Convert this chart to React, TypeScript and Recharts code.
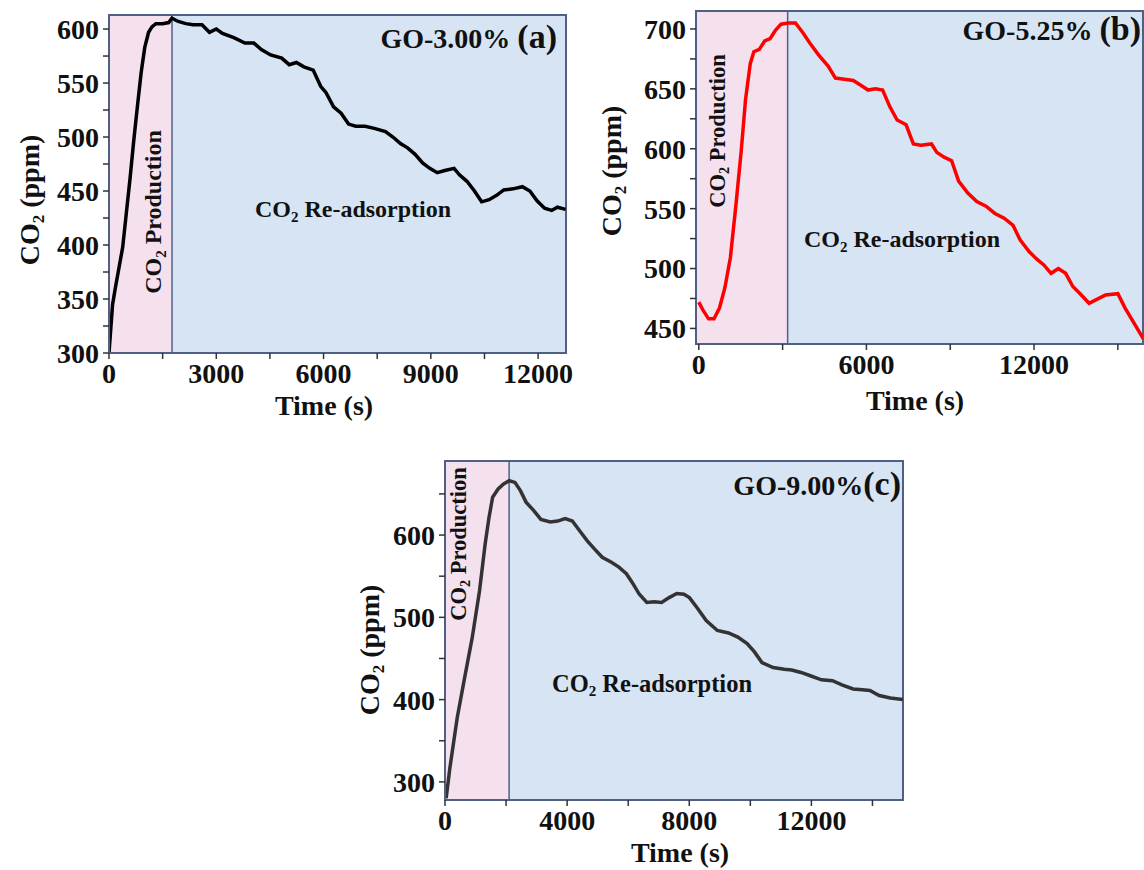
import React from "react";
import {
    LineChart,
    Line,
    XAxis,
    YAxis,
    ReferenceArea,
    ReferenceLine,
} from "recharts";

// Panel (a) GO-3.00%
const timeA = [0, 100, 176, 383, 486, 590, 693, 800, 900, 1000, 1107, 1200, 1310, 1500, 1670, 1760, 1935, 2150, 2350, 2600, 2810, 3000, 3175, 3490, 3800, 4050, 4260, 4520, 4830, 5040, 5240, 5450, 5710, 5920, 6070, 6280, 6490, 6700, 6900, 7160, 7420, 7730, 7940, 8150, 8350, 8560, 8770, 8970, 9180, 9390, 9650, 9800, 10010, 10220, 10420, 10630, 10840, 11040, 11300, 11560, 11770, 11970, 12180, 12380, 12540, 12770];
const co2A = [300, 345, 360, 398, 430, 462, 497, 530, 560, 583, 597, 602, 605, 605, 606, 610, 607, 605, 604, 604, 597, 600, 596, 592, 587, 587, 581, 576, 573, 567, 569, 565, 562, 547, 541, 528, 522, 512, 510, 510, 508, 505, 500, 494, 490, 484, 476, 471, 467, 469, 471, 465, 459, 450, 440, 442, 446, 451, 452, 454, 450, 441, 434, 432, 435, 433];

// Panel (b) GO-5.25%
const timeB = [0, 156, 350, 545, 740, 934, 1130, 1320, 1518, 1673, 1842, 1970, 2165, 2360, 2555, 2750, 2945, 3200, 3460, 3720, 3980, 4300, 4630, 4890, 5210, 5530, 5800, 6060, 6320, 6580, 6840, 7100, 7420, 7680, 7950, 8330, 8520, 8780, 9050, 9300, 9630, 9950, 10280, 10600, 10930, 11250, 11500, 11830, 12090, 12350, 12610, 12870, 13130, 13390, 13650, 13970, 14230, 14560, 15000, 15260, 15590, 15920];
const co2B = [472, 465, 458, 458, 467, 484, 509, 551, 598, 641, 671, 681, 683, 690, 692, 699, 704, 705, 705, 697, 688, 678, 669, 659, 658, 657, 653, 649, 650, 649, 635, 624, 620, 604, 603, 604, 597, 593, 590, 573, 563, 556, 552, 546, 542, 536, 524, 514, 508, 503, 496, 500, 496, 485, 479, 471, 474, 478, 479, 467, 454, 441];

// Panel (c) GO-9.00%
const timeC = [37, 160, 400, 645, 890, 1130, 1315, 1440, 1560, 1740, 1920, 2105, 2290, 2470, 2655, 2900, 3140, 3450, 3690, 3935, 4170, 4415, 4660, 4900, 5150, 5450, 5695, 5940, 6120, 6365, 6610, 6850, 7095, 7340, 7590, 7825, 8005, 8250, 8555, 8920, 9285, 9590, 9895, 10135, 10380, 10745, 11110, 11355, 11660, 11965, 12330, 12690, 13000, 13365, 13670, 13915, 14220, 14585, 15000];
const co2C = [280, 317, 378, 427, 475, 532, 589, 621, 646, 656, 662, 666, 664, 654, 640, 630, 619, 616, 617, 620, 617, 605, 593, 583, 573, 567, 561, 553, 543, 528, 518, 519, 518, 524, 529, 528, 524, 512, 496, 484, 481, 476, 468, 458, 445, 439, 437, 436, 433, 429, 424, 423, 418, 413, 412, 411, 405, 402, 400];

// ticks (minor ticks get no label)
const xTicksA = [0, 1500, 3000, 4500, 6000, 7500, 9000, 10500, 12000];
const xLabelsA = [0, 3000, 6000, 9000, 12000];
const yTicksA = [300, 325, 350, 375, 400, 425, 450, 475, 500, 525, 550, 575, 600];
const yLabelsA = [300, 350, 400, 450, 500, 550, 600];

const xTicksB = [0, 3000, 6000, 9000, 12000, 15000];
const xLabelsB = [0, 6000, 12000];
const yTicksB = [450, 475, 500, 525, 550, 575, 600, 625, 650, 675, 700];
const yLabelsB = [450, 500, 550, 600, 650, 700];

const xTicksC = [0, 2000, 4000, 6000, 8000, 10000, 12000, 14000];
const xLabelsC = [0, 4000, 8000, 12000];
const yTicksC = [300, 350, 400, 450, 500, 550, 600, 650];
const yLabelsC = [300, 400, 500, 600];

const FONT = '"Liberation Serif", "Times New Roman", serif';
const PINK = "#f5e1ee";
const BLUE = "#d6e4f4";
const FRAME = "#4e6185";

function toRows(t: number[], v: number[]) {
    return t.map((x, i) => ({ t: x, v: v[i] }));
}

function Panel(props: any) {
    const { left, top, width, height, margin, data, stroke, xDomain, yDomain, xTicks, xLabels, yTicks, yLabels, sep } = props;
    const tickStyle = { fontSize: 28, fontWeight: 700, fill: "#111", fontFamily: FONT };
    return (
        <div style={{ position: "absolute", left, top }}>
            <LineChart width={width} height={height} data={data} margin={margin}>
                <XAxis
                    type="number"
                    dataKey="t"
                    domain={xDomain}
                    ticks={xTicks}
                    allowDataOverflow
                    interval={0}
                    height={40}
                    tick={tickStyle}
                    tickFormatter={(v: number) => (xLabels.includes(v) ? String(v) : "")}
                    tickSize={6}
                    tickMargin={4}
                    axisLine={{ stroke: FRAME, strokeWidth: 2 }}
                    tickLine={{ stroke: "#333", strokeWidth: 1.5 }}
                />
                <YAxis
                    type="number"
                    domain={yDomain}
                    ticks={yTicks}
                    allowDataOverflow
                    interval={0}
                    width={60}
                    tick={tickStyle}
                    tickFormatter={(v: number) => (yLabels.includes(v) ? String(v) : "")}
                    tickSize={6}
                    tickMargin={4}
                    axisLine={{ stroke: FRAME, strokeWidth: 2 }}
                    tickLine={{ stroke: "#333", strokeWidth: 1.5 }}
                />
                <ReferenceArea x1={xDomain[0]} x2={sep} y1={yDomain[0]} y2={yDomain[1]} fill={PINK} fillOpacity={1} />
                <ReferenceArea x1={sep} x2={xDomain[1]} y1={yDomain[0]} y2={yDomain[1]} fill={BLUE} fillOpacity={1} />
                <ReferenceLine x={sep} stroke={FRAME} strokeWidth={1.5} />
                <ReferenceArea x1={xDomain[0]} x2={xDomain[1]} y1={yDomain[0]} y2={yDomain[1]} fill="none" stroke={FRAME} strokeWidth={2} />
                <Line
                    type="linear"
                    dataKey="v"
                    stroke={stroke}
                    strokeWidth={3.5}
                    dot={false}
                    isAnimationActive={false}
                />
            </LineChart>
        </div>
    );
}

function Txt({ x, y, size, rotate, children }: any) {
    return (
        <div
            style={{
                position: "absolute",
                left: x,
                top: y,
                transform: `translate(-50%, -50%)${rotate ? " rotate(-90deg)" : ""}`,
                fontFamily: FONT,
                fontWeight: 700,
                fontSize: size,
                lineHeight: 1,
                whiteSpace: "nowrap",
                color: "#111",
            }}
        >
            {children}
        </div>
    );
}

function Tag({ right, y, main, letter, gap }: any) {
    return (
        <div
            style={{
                position: "absolute",
                right: 1144 - right,
                top: y,
                transform: "translateY(-50%)",
                fontFamily: FONT,
                fontWeight: 700,
                fontSize: 28,
                lineHeight: 1,
                whiteSpace: "nowrap",
                color: "#111",
            }}
        >
            {main}
            {gap ? " " : ""}
            <span style={{ fontSize: 34 }}>{letter}</span>
        </div>
    );
}

const sub = (s: number) => <sub style={{ fontSize: s, verticalAlign: "-0.3em", lineHeight: 0 }}>2</sub>;

export default function App() {
    return (
        <div style={{ position: "absolute", left: 0, top: 0, width: 1144, height: 870, background: "#fff", overflow: "hidden" }}>
            <Panel
                left={0}
                top={0}
                width={580}
                height={440}
                margin={{ top: 15, right: 14, left: 49, bottom: 47 }}
                data={toRows(timeA, co2A)}
                stroke="#000"
                xDomain={[0, 12780]}
                yDomain={[300, 613]}
                xTicks={xTicksA}
                xLabels={xLabelsA}
                yTicks={yTicksA}
                yLabels={yLabelsA}
                sep={1762}
            />
            <Panel
                left={580}
                top={0}
                width={564}
                height={440}
                margin={{ top: 11, right: 1, left: 56, bottom: 56 }}
                data={toRows(timeB, co2B)}
                stroke="#ff0000"
                xDomain={[-100, 15900]}
                yDomain={[437, 715]}
                xTicks={xTicksB}
                xLabels={xLabelsB}
                yTicks={yTicksB}
                yLabels={yLabelsB}
                sep={3180}
            />
            <Panel
                left={340}
                top={450}
                width={580}
                height={420}
                margin={{ top: 11, right: 17, left: 45, bottom: 30 }}
                data={toRows(timeC, co2C)}
                stroke="#333333"
                xDomain={[0, 15000]}
                yDomain={[278, 690]}
                xTicks={xTicksC}
                xLabels={xLabelsC}
                yTicks={yTicksC}
                yLabels={yLabelsC}
                sep={2100}
            />

            {/* panel (a) texts */}
            <Txt x={30} y={200} size={28} rotate>CO{sub(17)} (ppm)</Txt>
            <Txt x={324} y={406} size={28}>Time (s)</Txt>
            <Txt x={153} y={212} size={24} rotate>CO{sub(15)} Production</Txt>
            <Txt x={353} y={209} size={24}>CO{sub(15)} Re-adsorption</Txt>
            <Tag right={557} y={37} main="GO-3.00%" letter="(a)" gap />

            {/* panel (b) texts */}
            <Txt x={612} y={171} size={28} rotate>CO{sub(17)} (ppm)</Txt>
            <Txt x={915} y={401} size={28}>Time (s)</Txt>
            <Txt x={718} y={131} size={22.5} rotate>CO{sub(14)} Production</Txt>
            <Txt x={902} y={239} size={24}>CO{sub(15)} Re-adsorption</Txt>
            <Tag right={1141} y={29} main="GO-5.25%" letter="(b)" gap />

            {/* panel (c) texts */}
            <Txt x={370} y={650} size={28} rotate>CO{sub(17)} (ppm)</Txt>
            <Txt x={680} y={853} size={28}>Time (s)</Txt>
            <Txt x={459} y={544} size={22.5} rotate>CO{sub(14)} Production</Txt>
            <Txt x={652} y={684} size={24.5}>CO{sub(15)} Re-adsorption</Txt>
            <Tag right={901} y={484} main="GO-9.00%" letter="(c)" />
        </div>
    );
}
